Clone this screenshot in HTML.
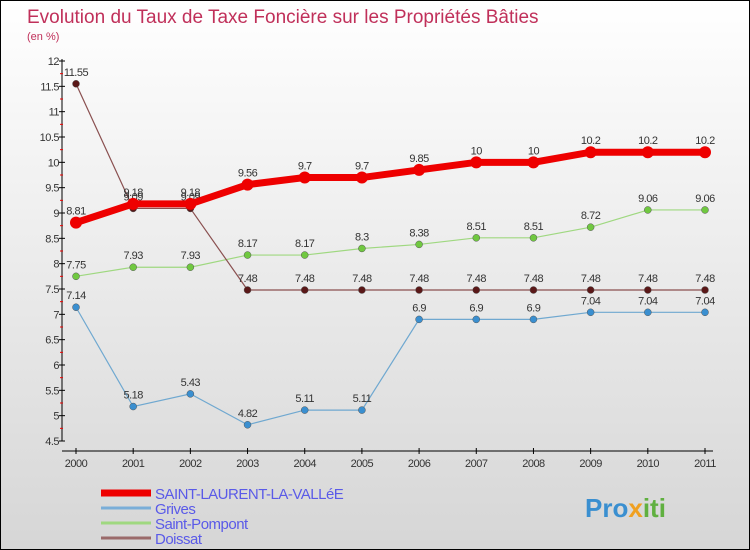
<!DOCTYPE html>
<html><head><meta charset="utf-8"><style>
body{margin:0}
#c{width:748px;height:548px;border:1px solid #000;background:linear-gradient(#fff,#d6d6d6);position:relative;font-family:"Liberation Sans",sans-serif;overflow:hidden}
</style></head><body>
<div id="c">
<svg id="s" width="748" height="548">
<text x="26" y="22" font-size="19" fill="#c0305a">Evolution du Taux de Taxe Foncière sur les Propriétés Bâties</text>
<text x="26" y="39" font-size="11" fill="#c0305a">(en %)</text>
<text x="584" y="516" font-size="26" font-weight="bold" fill="#3a8fd0">Pro<tspan fill="#f0a020">x</tspan><tspan fill="#60b040">iti</tspan></text>
</svg>
</div>
<script>
const years=["2000","2001","2002","2003","2004","2005","2006","2007","2008","2009","2010","2011"];
const yTicks=[4.5,5,5.5,6,6.5,7,7.5,8,8.5,9,9.5,10,10.5,11,11.5,12];
const saint=[8.81,9.18,9.18,9.56,9.7,9.7,9.85,10,10,10.2,10.2,10.2];
const grives=[7.14,5.18,5.43,4.82,5.11,5.11,6.9,6.9,6.9,7.04,7.04,7.04];
const pompont=[7.75,7.93,7.93,8.17,8.17,8.3,8.38,8.51,8.51,8.72,9.06,9.06];
const doissat=[11.55,9.09,9.09,7.48,7.48,7.48,7.48,7.48,7.48,7.48,7.48,7.48];
const names=["SAINT-LAURENT-LA-VALLéE","Grives","Saint-Pompont","Doissat"];
const S=document.getElementById('s'),NS="http://www.w3.org/2000/svg";
const X=i=>75+i*(629/11), Y=v=>60+(12-v)*(380/7.5);
function el(t,a,p){const e=document.createElementNS(NS,t);for(const k in a)e.setAttribute(k,a[k]);(p||S).appendChild(e);return e;}
let ax=el('line',{x1:61,y1:58,x2:61,y2:440,stroke:'#000'});

let bx=el('line',{x1:61,y1:450,x2:712,y2:450,stroke:'#000'});

yTicks.forEach(v=>{const y=Y(v);
 el('line',{x1:58,y1:y,x2:64,y2:y,stroke:'#000'});
 if(v<12)el('line',{x1:59,y1:Y(v+0.25),x2:62,y2:Y(v+0.25),stroke:'#e00'});
 const t=el('text',{x:58,y:y+4,'font-size':11,fill:'#333','text-anchor':'end','letter-spacing':'-0.5'});t.textContent=String(v);
 });
years.forEach((yr,i)=>{const x=X(i);el('line',{x1:x,y1:447,x2:x,y2:453,stroke:'#000'});
 const t=el('text',{x:x,y:466,'font-size':11,fill:'#333','text-anchor':'middle','letter-spacing':'-0.5'});t.textContent=yr;
 });
function series(d,col,w,r,dot,name){
 const g=el('g',{});
 el('polyline',{points:d.map((v,i)=>X(i)+','+Y(v)).join(' '),fill:'none',stroke:col,'stroke-width':w},g);
 d.forEach((v,i)=>{el('circle',{cx:X(i),cy:Y(v),r:r,fill:dot,stroke:col==='#e00'?'none':'#555','stroke-width':0.5},g);
  const t=el('text',{x:X(i),y:Y(v)-8,'font-size':11,fill:'#333','text-anchor':'middle','letter-spacing':'-0.5'},g);t.textContent=String(v);
  });
}
series(grives,'#6fa8d0',1.2,3.5,'#3a8fd0','grives');
series(pompont,'#9fd880',1.2,3.5,'#70c840','saint-pompont');
series(doissat,'#8a5050',1.2,3.5,'#5a1818','doissat');
series(saint,'#e00',7,6,'#e00','saint-laurent');
const lc=['#e00','#7aaed8','#9fd880','#9a6a6a'],lw=[7,3,3,3];
names.forEach((n,i)=>{const y=492+i*15;
 const g=el('g',{});
 el('line',{x1:100,y1:y,x2:150,y2:y,stroke:lc[i],'stroke-width':lw[i]},g);
 const t=el('text',{x:154,y:y+6,'font-size':15,fill:'#5a5ae8','letter-spacing':'-0.5'},g);t.textContent=n;});
</script>
</body></html>
